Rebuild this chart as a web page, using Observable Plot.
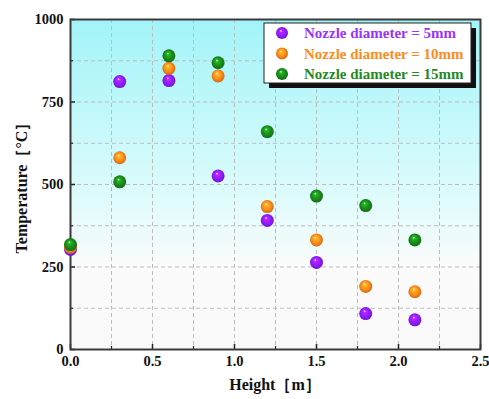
<!DOCTYPE html>
<html><head><meta charset="utf-8">
<script src="https://cdn.jsdelivr.net/npm/d3@7"></script>
<script src="https://cdn.jsdelivr.net/npm/@observablehq/plot@0.6"></script>
<style>body{margin:0;background:#fff}</style>
</head><body><div id="chart"></div>
<script>
const heights = [0, 0.3, 0.6, 0.9, 1.2, 1.5, 1.8, 2.1];
const temp5mm  = [303, 812, 815, 526, 391, 264, 109, 90];
const temp10mm = [310, 581, 852, 829, 433, 332, 191, 175];
const temp15mm = [318, 508, 890, 869, 660, 465, 436, 332];
const seriesNames = ["Nozzle diameter = 5mm", "Nozzle diameter = 10mm", "Nozzle diameter = 15mm"];
const seriesColors = ["#8f1cff", "#ff8a1a", "#1a8a1a"];
const textColors = ["#9933ff", "#ff8c1a", "#1f8a1f"];
const xTicks = [0, 0.5, 1, 1.5, 2, 2.5];
const xMinor = [0.25, 0.75, 1.25, 1.75, 2.25];
const yTicks = [0, 250, 500, 750, 1000];
const yMinor = [125, 375, 625, 875];
const xGrid = [0.25, 0.5, 0.75, 1, 1.25, 1.5, 1.75, 2, 2.25];
const yGrid = [125, 250, 375, 500, 625, 750, 875];
const xTitle = "Height［m］";
const yTitle = "Temperature［°C］";

const FONT = "'Liberation Serif', 'Times New Roman', serif";
const series = [temp5mm, temp10mm, temp15mm];
const gradIds = ["gP", "gO", "gG"];
const data = series.map((vals, s) => heights.map((h, i) => ({h, t: vals[i], s})));

const W = 489, H = 399;
const plot = Plot.plot({
  width: W, height: H,
  marginLeft: 70, marginRight: 9, marginTop: 19, marginBottom: 50,
  style: {fontFamily: FONT, fontWeight: "bold", fontSize: "14px", color: "#111", background: "#fff"},
  x: {domain: [0, 2.5]},
  y: {domain: [0, 1000]},
  marks: [
    Plot.frame({fill: "url(#bg)", stroke: null}),
    Plot.gridX(xGrid, {stroke: "#bdbdbd", strokeOpacity: 1, strokeDasharray: "4,3"}),
    Plot.gridY(yGrid, {stroke: "#bdbdbd", strokeOpacity: 1, strokeDasharray: "4,3"}),
    Plot.axisX(xTicks, {tickSize: -5, tickPadding: 11, tickFormat: d3.format(".1f"), label: null, stroke: "#222", strokeWidth: 1.5, fontFamily: FONT, fontWeight: "bold", fontSize: 14.5}),
    Plot.axisX(xMinor, {tickSize: -3, tickFormat: () => "", label: null, stroke: "#222", strokeWidth: 1.2}),
    Plot.axisY(yTicks, {tickSize: -5, tickPadding: 12, tickFormat: d3.format("d"), label: null, stroke: "#222", strokeWidth: 1.5, fontFamily: FONT, fontWeight: "bold", fontSize: 14.5}),
    Plot.axisY(yMinor, {tickSize: -3, tickFormat: () => "", label: null, stroke: "#222", strokeWidth: 1.2}),
    Plot.frame({stroke: "#3a3a3a", strokeWidth: 2}),
    ...data.map((d, s) => Plot.dot(d, {x: "h", y: "t", r: 6.5, fill: `url(#${gradIds[s]})`, stroke: "none", clip: false}))
  ]
});

const svg = d3.select(plot);
const defs = svg.insert("defs", ":first-child");
const bg = defs.append("linearGradient").attr("id", "bg").attr("x1", 0).attr("y1", 0).attr("x2", 0).attr("y2", 1);
bg.append("stop").attr("offset", "0%").attr("stop-color", "#a2f4f8");
bg.append("stop").attr("offset", "50%").attr("stop-color", "#dafbfc");
bg.append("stop").attr("offset", "75%").attr("stop-color", "#fbfbfb");
bg.append("stop").attr("offset", "100%").attr("stop-color", "#f9f9f9");
seriesColors.forEach((c, s) => {
  const g = defs.append("radialGradient").attr("id", gradIds[s]).attr("cx", "50%").attr("cy", "50%").attr("r", "55%").attr("fx", "40%").attr("fy", "30%");
  g.append("stop").attr("offset", "0%").attr("stop-color", "#ffffff");
  g.append("stop").attr("offset", "18%").attr("stop-color", d3.color(c).brighter(0.8).formatHex());
  g.append("stop").attr("offset", "60%").attr("stop-color", c);
  g.append("stop").attr("offset", "100%").attr("stop-color", d3.color(c).darker(0.8).formatHex());
});

const xs = plot.scale("x"), ys = plot.scale("y");
const [x0, x1] = xs.range, [y0, y1] = ys.range;
// axis titles
svg.append("text").attr("x", (x0 + x1) / 2).attr("y", H - 9).attr("text-anchor", "middle")
  .attr("font-family", FONT).attr("font-size", 16).attr("font-weight", "bold").attr("fill", "#111").text(xTitle);
svg.append("text").attr("transform", `translate(27,${(y0 + y1) / 2}) rotate(-90)`).attr("text-anchor", "middle")
  .attr("font-family", FONT).attr("font-size", 16).attr("font-weight", "bold").attr("fill", "#111").text(yTitle);

// legend
const lx = 264, ly = 23, lw = 207, lh = 60;
const lg = svg.append("g").attr("text-anchor", "start");
lg.append("rect").attr("x", lx + 5).attr("y", ly + 5).attr("width", lw).attr("height", lh).attr("fill", "#111");
lg.append("rect").attr("x", lx).attr("y", ly).attr("width", lw).attr("height", lh).attr("fill", "#fff").attr("stroke", "#222").attr("stroke-width", 1);
seriesNames.forEach((name, s) => {
  const cy = ly + 10 + s * 20.5;
  lg.append("circle").attr("cx", lx + 18).attr("cy", cy).attr("r", 6).attr("fill", `url(#${gradIds[s]})`);
  lg.append("text").attr("x", lx + 40).attr("y", cy + 5).attr("text-anchor", "start")
    .attr("font-family", FONT).attr("font-size", 15).attr("font-weight", "bold")
    .attr("fill", textColors[s]).text(name);
});

document.getElementById("chart").appendChild(plot);
</script>
</body></html>
